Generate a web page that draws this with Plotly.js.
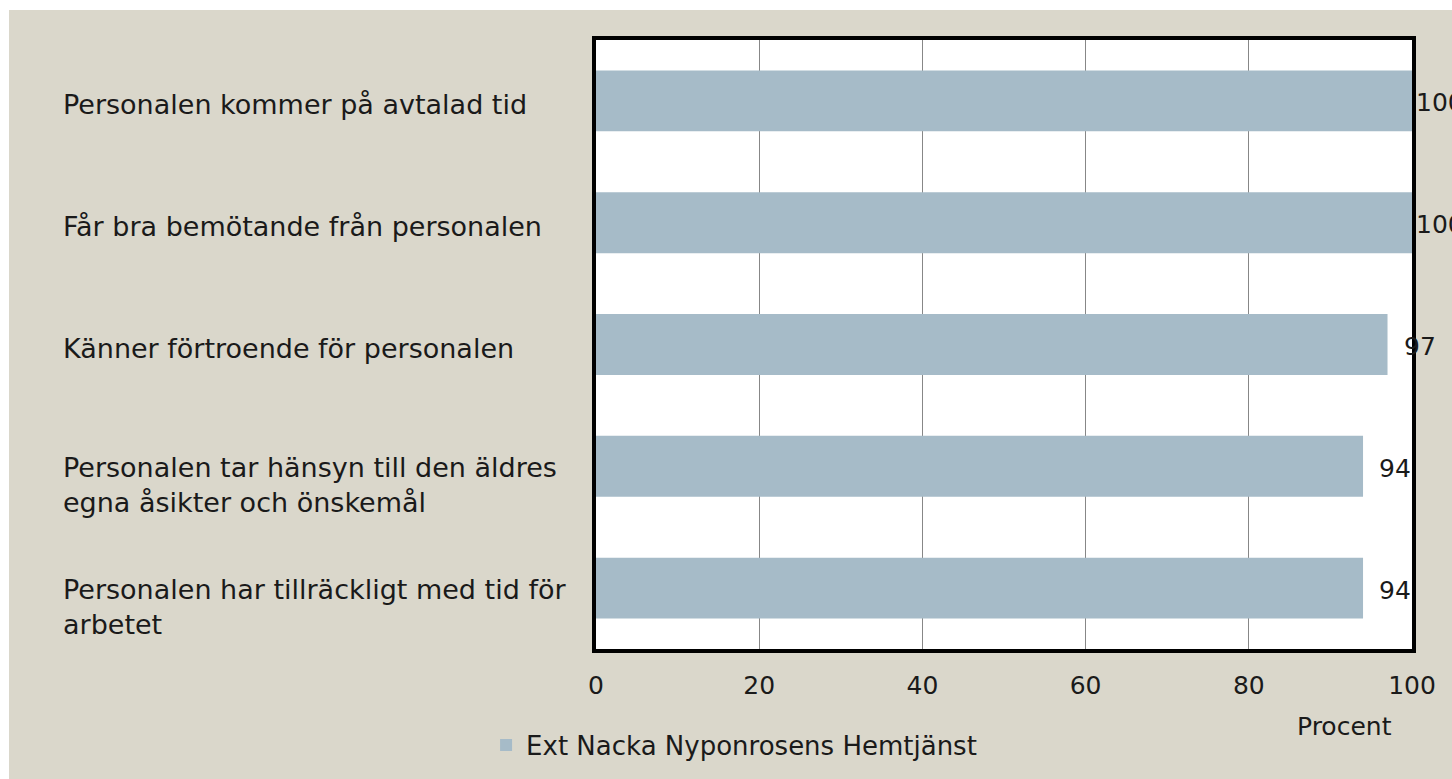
<!DOCTYPE html>
<html>
<head>
<meta charset="utf-8">
<script src="https://cdn.plot.ly/plotly-3.0.1.min.js"></script>
<style>
  html, body { margin: 0; padding: 0; background: #ffffff; }
  #chart { position: absolute; left: 9px; top: 10px; width: 1443px; height: 769px; }
</style>
</head>
<body>
<div id="chart"></div>
<script>
// ---- data ----
const categories = [
  "Personalen kommer på avtalad tid",
  "Får bra bemötande från personalen",
  "Känner förtroende för personalen",
  "Personalen tar hänsyn till den äldres<br>egna åsikter och önskemål",
  "Personalen har tillräckligt med tid för<br>arbetet"
];
const values = [100, 100, 97, 94, 94];
const seriesName = "Ext Nacka Nyponrosens Hemtjänst";
const xTickValues = [0, 20, 40, 60, 80, 100];
const xTickLabels = ["0", "20", "40", "60", "80", "100"];
const axisLabel = "Procent";

// ---- style ----
const FONT = "DejaVu Sans";
const barColor = "#a6bbc8";
const bgColor = "#dad7cb";
const textColor = "#1a1a1a";

const trace = {
  type: "bar",
  orientation: "h",
  y: categories,
  x: values,
  name: seriesName,
  marker: { color: barColor },
  hoverinfo: "none",
  showlegend: true
};

const annotations = [];
// category labels (left aligned)
categories.forEach((cat) => {
  const nLines = cat.split("<br>").length;
  annotations.push({
    xref: "paper", yref: "y",
    x: -0.6553, y: cat,
    xanchor: "left", yanchor: "middle",
    align: "left",
    yshift: nLines === 1 ? -4 : -19,
    text: cat, showarrow: false,
    font: { family: FONT, size: 27, color: textColor }
  });
});
// data labels
values.forEach((v, i) => {
  annotations.push({
    xref: "x", yref: "y",
    x: v, y: categories[i],
    xanchor: "left", yanchor: "middle",
    xshift: v >= 100 ? 2 : 14,
    yshift: -2,
    text: String(v), showarrow: false,
    font: { family: FONT, size: 25, color: textColor }
  });
});
// axis title
annotations.push({
  xref: "paper", yref: "paper",
  x: 0.917, y: -0.128,
  xanchor: "center", yanchor: "middle",
  text: axisLabel, showarrow: false,
  font: { family: FONT, size: 25, color: textColor }
});

const layout = {
  width: 1443, height: 769,
  margin: { l: 587, r: 40, t: 30, b: 129, pad: 0 },
  paper_bgcolor: bgColor,
  plot_bgcolor: "#ffffff",
  font: { family: FONT, size: 25, color: textColor },
  bargap: 0.5,
  showlegend: true,
  legend: {
    x: -0.1347, xanchor: "left",
    y: -0.156, yanchor: "middle",
    orientation: "h",
    bgcolor: "rgba(0,0,0,0)",
    font: { family: FONT, size: 26, color: textColor },
    itemclick: false, itemdoubleclick: false
  },
  xaxis: {
    range: [0, 100],
    tickvals: xTickValues,
    ticktext: xTickLabels,
    showgrid: true,
    gridcolor: "#878787",
    gridwidth: 1,
    zeroline: false,
    showline: true,
    linecolor: "#000000",
    linewidth: 4,
    mirror: true,
    ticks: "",
    ticklabelstandoff: 11,
    tickfont: { family: FONT, size: 25, color: textColor },
    fixedrange: true
  },
  yaxis: {
    autorange: "reversed",
    showticklabels: false,
    showgrid: false,
    zeroline: false,
    showline: true,
    linecolor: "#000000",
    linewidth: 4,
    mirror: true,
    ticks: "",
    fixedrange: true
  },
  annotations: annotations
};

Plotly.newPlot("chart", [trace], layout, { displayModeBar: false, staticPlot: true });
</script>
</body>
</html>
